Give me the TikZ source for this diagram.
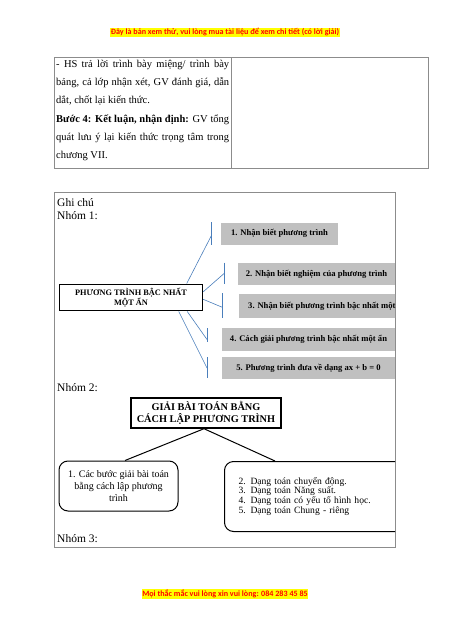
\documentclass[tikz,border=0pt]{standalone}
\usepackage{fontspec}
\setmainfont{Liberation Serif}
\newfontfamily\calfont{Carlito}
\definecolor{framegray}{HTML}{8C8C8C}
\definecolor{boxgray}{HTML}{C0C0C0}
\definecolor{linkblue}{HTML}{4A7EBB}
\definecolor{hlyellow}{HTML}{FFFF00}
\definecolor{hlred}{HTML}{FF0000}
\begin{document}
\begin{tikzpicture}[x=1pt,y=-1pt,
  frameline/.style={draw=framegray, line width=0.8pt},
  banner/.style={fill=hlyellow, text=hlred, inner xsep=0.6pt, inner ysep=1pt, font=\calfont\bfseries\fontsize{8.1}{9}\selectfont},
  bodyline/.style={anchor=base west, inner sep=0, font=\fontsize{10.5}{12}\selectfont},
  notetext/.style={anchor=base west, inner sep=0, font=\fontsize{11.5}{13}\selectfont},
  graybox/.style={fill=boxgray, inner sep=0, font=\bfseries\fontsize{8.6}{10}\selectfont},
  bluelink/.style={draw=linkblue, line width=0.6pt},
  mainbox/.style={draw, line width=1.4pt, align=center, inner sep=0},
  roundbox/.style={draw, rounded corners=9pt, line width=1pt, inner sep=0},
  blacklink/.style={draw, line width=1pt}
]
\useasboundingbox (0,0) rectangle (450,636);

% header / footer
\node[banner] (hdr) at (225,32.5) {Đây là bản xem thử, vui lòng mua tài liệu để xem chi tiết (có lời giải)};
\node[banner] (ftr) at (225,594.2) {Mọi thắc mắc vui lòng xin vui lòng: 084 283 45 85};

% top table
\draw[frameline] (54.3,57.3) rectangle (428.7,168);
\draw[frameline] (231,57.3) -- (231,168);
\node[bodyline] (t1) at (56,68) {\makebox[173pt][s]{- HS trả lời trình bày miệng/ trình bày}};
\node[bodyline] (t2) at (56,86) {\makebox[173pt][s]{bảng, cả lớp nhận xét, GV đánh giá, dẫn}};
\node[bodyline] (t3) at (56,104) {dắt, chốt lại kiến thức.};
\node[bodyline] (t4) at (56,122.5) {\makebox[173pt][s]{\textbf{Bước 4: Kết luận, nhận định:} GV tổng}};
\node[bodyline] (t5) at (56,140.5) {\makebox[173pt][s]{quát lưu ý lại kiến thức trọng tâm trong}};
\node[bodyline] (t6) at (56,159) {chương VII.};

% note frame
\draw[frameline] (54.3,192) rectangle (395,547.5);
\node[notetext] (ghichu) at (57,206.5) {Ghi chú};
\node[notetext] (n1) at (57,219) {Nhóm 1:};
\node[notetext] (n2) at (57,391.5) {Nhóm 2:};
\node[notetext] (n3) at (57,542.5) {Nhóm 3:};

\begin{scope}
\clip (54.3,192) rectangle (395,547.5);
% group 1
\node[mainbox, minimum width=143pt, minimum height=26.5pt,
  font=\bfseries\fontsize{8.3}{10}\selectfont] (pt) at (131,297.5)
  {PHƯƠNG TRÌNH BẬC NHẤT\\MỘT ẨN};
\node[graybox, minimum width=117pt, minimum height=22pt] (g1) at (279.5,233.5) {1. Nhận biết phương trình};
\node[graybox, minimum width=157pt, minimum height=22pt] (g2) at (316.5,274) {2. Nhận biết nghiệm của phương trình};
\node[graybox, anchor=west, inner xsep=9pt, minimum height=24pt] (g3) at (239,306) {3. Nhận biết phương trình bậc nhất một ẩn};
\node[graybox, minimum width=173pt, minimum height=23pt] (g4) at (308.5,339.5) {4. Cách giải phương trình bậc nhất một ẩn};
\node[graybox, minimum width=173pt, minimum height=22pt] (g5) at (308.5,368) {5. Phương trình đưa về dạng ax + b = 0};

\coordinate (b1a) at (211.7,222); \coordinate (b1b) at (211.7,245); \coordinate (b1m) at (211.7,235);
\coordinate (b2a) at (224.3,262.7); \coordinate (b2b) at (224.3,284.3); \coordinate (b2m) at (224.3,273.3);
\coordinate (b3a) at (222.3,293.3); \coordinate (b3b) at (222.3,318); \coordinate (b3m) at (222.3,307.3);
\coordinate (b4a) at (207,328); \coordinate (b4b) at (207,342); \coordinate (b4m) at (207,339.5);
\coordinate (b5a) at (207,357); \coordinate (b5b) at (207,378); \coordinate (b5m) at (207,368);
\draw[bluelink] (b1a) -- (b1b);
\draw[bluelink] (b2a) -- (b2b);
\draw[bluelink] (b3a) -- (b3b);
\draw[bluelink] (b4a) -- (b4b);
\draw[bluelink] (b5a) -- (b5b);
\draw[bluelink] (pt.north east) ++(-16.5,0) -- (b1m);
\draw[bluelink] (pt.east) ++(0,-5.7) -- (b2m);
\draw[bluelink] (pt.east) ++(0,1.8) -- (b3m);
\draw[bluelink] (pt.south east) ++(-16,0) -- (b4m);
\draw[bluelink] (pt.south east) ++(-24.5,0) -- (b5m);

% group 2
\node[mainbox, minimum width=150pt, minimum height=30pt,
  font=\bfseries\fontsize{10.3}{11.5}\selectfont] (gb) at (206,413)
  {GIẢI BÀI TOÁN BẰNG\\CÁCH LẬP PHƯƠNG TRÌNH};
\node[roundbox, minimum width=119pt, minimum height=50pt, align=center,
  font=\fontsize{10}{12}\selectfont] (rb1) at (118.5,486)
  {1. Các bước giải bài toán\\bằng cách lập phương\\trình};
\node[roundbox, anchor=north west, minimum width=200pt, minimum height=70pt,
  text width=190pt, align=left, font=\fontsize{9.6}{9.8}\selectfont] (rb2) at (224,461)
  {\hspace*{9pt}\begin{tabular}{@{}l@{}}2. Dạng toán chuyển động.\\[-0.2pt]3. Dạng toán Năng suất.\\[-0.2pt]4. Dạng toán có yếu tố hình học.\\[-0.2pt]5. Dạng toán Chung - riêng\end{tabular}};
\draw[blacklink] (gb.south) ++(-2,0) -- ([xshift=6.5pt]rb1.north);
\draw[blacklink] (gb.south) ++(-2,0) -- ([xshift=51pt]rb2.north west);
\end{scope}
\end{tikzpicture}
\end{document}
